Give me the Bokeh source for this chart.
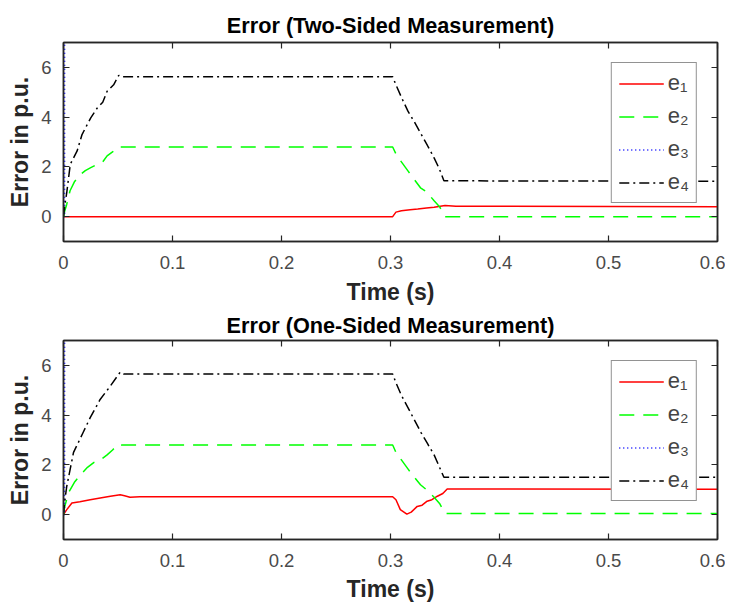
from bokeh.plotting import figure
from bokeh.models import LinearAxis, Range1d, Legend, LegendItem, FixedTicker
from bokeh.layouts import column
from bokeh.embed import file_html
from bokeh.resources import INLINE

# ---------------- data ----------------
x_ticks = [0, 0.1, 0.2, 0.3, 0.4, 0.5, 0.6]
y_ticks = [0, 2, 4, 6]
labels = ["e\u2081", "e\u2082", "e\u2083", "e\u2084"]
titles = ["Error (Two-Sided Measurement)", "Error (One-Sided Measurement)"]

# Two-sided
t_e1_a = [0, 0.302, 0.305, 0.31, 0.318, 0.325, 0.333, 0.34, 0.35, 0.36, 0.6]
e1_a = [0, 0, 0.18, 0.24, 0.28, 0.31, 0.35, 0.38, 0.45, 0.42, 0.4]
t_e2_a = [0, 0.001, 0.003, 0.006, 0.01, 0.0156, 0.02, 0.025, 0.031, 0.036, 0.040, 0.045, 0.049, 0.052,
          0.302, 0.305, 0.31, 0.316, 0.32, 0.3275, 0.333, 0.34, 0.345, 0.35, 0.6]
e2_a = [0, 0.2, 0.5, 1.04, 1.4, 1.7, 1.85, 1.97, 2.1, 2.2, 2.44, 2.6, 2.77, 2.8,
        2.8, 2.52, 2.2, 1.84, 1.6, 1.16, 1.0, 0.64, 0.4, 0.0, 0.0]
t_e3_a = [0, 0.001, 0.0012, 0.6]
e3_a = [0, 0, 60, 60]
t_e4_a = [0, 0.001, 0.003, 0.0062, 0.0125, 0.017, 0.025, 0.031, 0.036, 0.040, 0.046, 0.0507, 0.053,
          0.302, 0.305, 0.31, 0.316, 0.322, 0.328, 0.334, 0.340, 0.345, 0.349, 0.6]
e4_a = [0, 0.4, 0.97, 2.1, 2.64, 3.3, 3.97, 4.37, 4.6, 5.04, 5.3, 5.68, 5.62,
        5.62, 5.3, 4.8, 4.24, 3.8, 3.32, 2.85, 2.36, 1.9, 1.44, 1.42]

# One-sided
t_e1_b = [0, 0.003, 0.0077, 0.015, 0.0245, 0.035, 0.043, 0.052, 0.056, 0.061, 0.07,
          0.302, 0.305, 0.309, 0.315, 0.319, 0.3245, 0.329, 0.3336, 0.338, 0.343, 0.348, 0.352, 0.6]
e1_b = [0, 0.2, 0.47, 0.52, 0.6, 0.68, 0.74, 0.8, 0.76, 0.7, 0.72,
        0.72, 0.6, 0.2, 0.02, 0.1, 0.33, 0.38, 0.54, 0.6, 0.74, 0.85, 1.03, 1.02]
t_e2_b = [0, 0.001, 0.0046, 0.01, 0.0156, 0.022, 0.028, 0.034, 0.040, 0.045, 0.050, 0.053,
          0.302, 0.305, 0.31, 0.316, 0.32, 0.3275, 0.333, 0.34, 0.345, 0.35, 0.6]
e2_b = [0, 0.3, 0.88, 1.3, 1.6, 1.9, 2.1, 2.2, 2.4, 2.6, 2.82, 2.8,
        2.8, 2.5, 2.2, 1.84, 1.6, 1.2, 1.0, 0.7, 0.45, 0.05, 0.05]
t_e3_b = [0, 0.001, 0.0012, 0.6]
e3_b = [0, 0, 60, 60]
t_e4_b = [0, 0.001, 0.003, 0.006, 0.0092, 0.018, 0.0245, 0.0336, 0.043, 0.052, 0.055,
          0.302, 0.305, 0.31, 0.316, 0.322, 0.328, 0.334, 0.340, 0.345, 0.349, 0.6]
e4_b = [0, 0.5, 1.14, 1.8, 2.5, 3.3, 3.9, 4.63, 5.17, 5.73, 5.65,
        5.65, 5.3, 4.8, 4.3, 3.8, 3.3, 2.85, 2.4, 1.9, 1.5, 1.5]

# ---------------- styling ----------------
FONT = "Liberation Sans"
AXC = "#262626"
TICKC = "#4a4a4a"
styles = [
    dict(color="#ff0000", dash="solid"),
    dict(color="#00ff00", dash="15 9"),
    dict(color="#0000ff", dash="1 3"),
    dict(color="#000000", dash="10 4 2 4"),
]


def style_axis(ax, show_labels=True):
    ax.major_tick_in = 6
    ax.major_tick_out = 0
    ax.minor_tick_in = 0
    ax.minor_tick_out = 0
    ax.axis_line_color = AXC
    ax.axis_line_width = 1.5
    ax.major_tick_line_color = AXC
    ax.major_tick_line_width = 1.2
    if show_labels:
        ax.major_label_text_font = FONT
        ax.major_label_text_font_size = "18.5px"
        ax.major_label_text_color = TICKC
        ax.axis_label_text_font = FONT
        ax.axis_label_text_font_size = "23px"
        ax.axis_label_text_font_style = "bold"
        ax.axis_label_text_color = AXC
    else:
        ax.major_label_text_font_size = "0px"
        ax.major_label_standoff = 0


def make(title, data, border_top, title_so, tick_so, label_so):
    p = figure(frame_width=654, frame_height=199,
               x_range=Range1d(0, 0.6), y_range=Range1d(-1, 7),
               output_backend="svg", toolbar_location=None,
               min_border_left=63, min_border_right=8,
               min_border_top=border_top, min_border_bottom=0)
    p.title.text = title
    p.title.align = "center"
    p.title.text_font = FONT
    p.title.text_font_size = "21.7px"
    p.title.text_font_style = "bold"
    p.title.text_color = "#000000"
    p.title.standoff = title_so
    p.xgrid.visible = False
    p.ygrid.visible = False
    p.outline_line_color = AXC
    p.outline_line_width = 1.5

    p.xaxis.ticker = FixedTicker(ticks=x_ticks)
    p.yaxis.ticker = FixedTicker(ticks=y_ticks)
    p.xaxis.axis_label = "Time (s)"
    p.yaxis.axis_label = "Error in p.u."
    style_axis(p.xaxis[0])
    style_axis(p.yaxis[0])
    p.xaxis.major_label_standoff = tick_so
    p.xaxis.axis_label_standoff = label_so
    p.yaxis.major_label_standoff = 12
    p.yaxis.axis_label_standoff = 5

    top = LinearAxis(ticker=FixedTicker(ticks=x_ticks))
    right = LinearAxis(ticker=FixedTicker(ticks=y_ticks))
    style_axis(top, False)
    style_axis(right, False)
    p.add_layout(top, "above")
    p.add_layout(right, "right")

    items = []
    for (t, v), lab, st in zip(data, labels, styles):
        r = p.line(t, v, line_color=st["color"], line_dash=st["dash"], line_width=1.5)
        items.append(LegendItem(label=lab, renderers=[r]))
    leg = Legend(items=items, location="top_right", margin=20,
                 padding=7, spacing=7, glyph_height=25, glyph_width=45,
                 label_height=25, label_standoff=4,
                 label_text_font=FONT, label_text_font_size="22px",
                 border_line_color=AXC, border_line_width=1,
                 background_fill_color="white", background_fill_alpha=1.0)
    p.add_layout(leg, "center")
    return p


p1 = make(titles[0], [(t_e1_a, e1_a), (t_e2_a, e2_a), (t_e3_a, e3_a), (t_e4_a, e4_a)], 42, 9, 14, 7)
p2 = make(titles[1], [(t_e1_b, e1_b), (t_e2_b, e2_b), (t_e3_b, e3_b), (t_e4_b, e4_b)], 0, 6, 14, 6)

layout = column(p1, p2, spacing=0)
open("out.html", "w").write(file_html(layout, INLINE))
